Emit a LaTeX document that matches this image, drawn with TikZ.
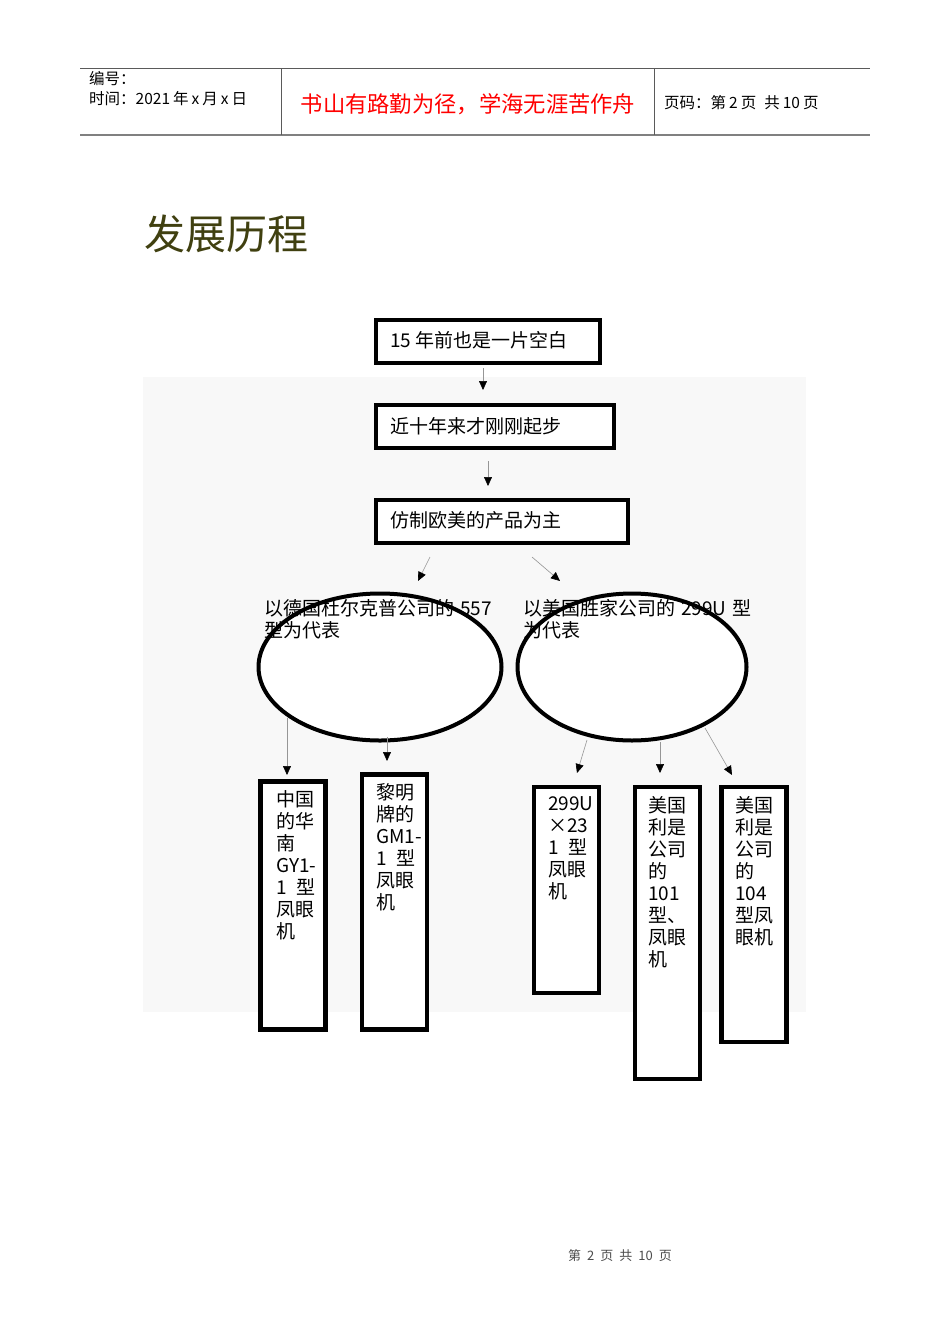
\documentclass[tikz,border=0pt]{standalone}
\usepackage{fontspec}
\setmainfont{Noto Sans CJK SC}
\usetikzlibrary{arrows.meta,shapes.geometric}
\definecolor{titlecol}{RGB}{64,64,16}
\definecolor{bgcol}{RGB}{248,248,248}
\definecolor{hdrline}{RGB}{90,90,90}
\definecolor{linkcol}{RGB}{150,150,150}
\tikzset{
  sbox/.style={draw, line width=4.3pt, fill=white, anchor=north west, inner sep=0pt, outer sep=0pt},
  btxt/.style={anchor=north west, align=left, font=\fontsize{19}{22}\selectfont, inner sep=0pt},
  ltxt/.style={anchor=west, font=\fontsize{19}{22}\selectfont, inner sep=0pt},
  oval/.style={draw, ellipse, line width=4pt, fill=white, inner sep=0pt},
  arr/.style={draw=linkcol, line width=0.6pt, -{Triangle[length=9pt,width=8pt,color=black]}},
  hdr/.style={draw=hdrline, line width=1pt},
  htxt/.style={anchor=west, font=\fontsize{15.5}{17}\selectfont, inner sep=0pt}
}
\begin{document}
\begin{tikzpicture}[x=1pt,y=-1pt]
\useasboundingbox[fill=white] (0,0) rectangle (950,1344);
% header
\draw[hdr] (80,68) -- (870,68);
\draw[hdr, line width=1.4pt, draw=gray] (80,135) -- (870,135);
\draw[hdr] (281,68) -- (281,135);
\draw[hdr] (654,68) -- (654,135);
\node[htxt] (h1) at (89,79) {编号：};
\node[htxt] (h2) at (89,99) {时间：2021\hspace{3pt}年\hspace{3pt}x\hspace{3pt}月\hspace{3pt}x\hspace{3pt}日};
\node[anchor=center, font=\fontsize{22.3}{24}\selectfont, text=red, inner sep=0pt] (h3) at (468,104) {书山有路勤为径，学海无涯苦作舟};
\node[htxt] (h4) at (664,103) {页码：第\hspace{3pt}2\hspace{3pt}页\hspace{8pt}共\hspace{3pt}10\hspace{3pt}页};
% title
\node[anchor=west, font=\fontsize{41}{44}\selectfont, text=titlecol, inner sep=0pt] (title) at (144,234) {发展历程};
% background
\fill[bgcol] (143,377) rectangle (806,1012);
% top boxes
\node[sbox, minimum width=224pt, minimum height=43pt] (b1) at (376,320) {};
\node[ltxt] (t1) at (390,340) {15\hspace{4pt}年前也是一片空白};
\node[sbox, minimum width=238pt, minimum height=43pt] (b2) at (376,405) {};
\node[ltxt] (t2) at (390,426) {近十年来才刚刚起步};
\node[sbox, minimum width=252pt, minimum height=43pt] (b3) at (376,500) {};
\node[ltxt] (t3) at (390,520) {仿制欧美的产品为主};
% ellipses
\node[oval, minimum width=243pt, minimum height=147pt] (e1) at (380,667) {};
\node[oval, minimum width=229pt, minimum height=147pt] (e2) at (632,667) {};
\node[btxt] (et1) at (264,599) {以德国杜尔克普公司的\hspace{6pt}557\\型为代表};
\node[btxt] (et2) at (523,599) {以美国胜家公司的\hspace{6pt}299U\hspace{6pt}型\\为代表};
% bottom boxes
\node[sbox, minimum width=65pt, minimum height=248pt] (c1) at (260.5,781.5) {};
\node[btxt] (ct1) at (276,790) {中国\\的华\\南\\GY1-\\1\hspace{10pt}型\\凤眼\\机};
\node[sbox, minimum width=65pt, minimum height=255pt] (c2) at (362,774.5) {};
\node[btxt] (ct2) at (376,783) {黎明\\牌的\\GM1-\\1\hspace{10pt}型\\凤眼\\机};
\node[sbox, minimum width=65pt, minimum height=206pt] (c3) at (534,787) {};
\node[btxt] (ct3) at (548,796) {299U\\×23\\1\hspace{10pt}型\\凤眼\\机};
\node[sbox, minimum width=65pt, minimum height=292pt] (c4) at (635,787) {};
\node[btxt] (ct4) at (648,796) {美国\\利是\\公司\\的\\101\\型、\\凤眼\\机};
\node[sbox, minimum width=65pt, minimum height=255pt] (c5) at (721.5,787) {};
\node[btxt] (ct5) at (735,796) {美国\\利是\\公司\\的\\104\\型凤\\眼机};
% connectors
\coordinate (a1s) at (483,368); \coordinate (a1e) at (483,390);
\coordinate (a2s) at (488,461); \coordinate (a2e) at (488,486);
\coordinate (a3s) at (430,557); \coordinate (a3e) at (418,581);
\coordinate (a4s) at (532,557); \coordinate (a4e) at (560,581);
\coordinate (a5s) at (287,718); \coordinate (a5e) at (287,775);
\coordinate (a6s) at (387,737); \coordinate (a6e) at (387,761);
\coordinate (a7s) at (587,740); \coordinate (a7e) at (577,773);
\coordinate (a8s) at (660,742); \coordinate (a8e) at (660,773);
\coordinate (a9s) at (705,728); \coordinate (a9e) at (732,775);
\foreach \i in {1,...,9} {\draw[arr] (a\i s) -- (a\i e);}
% footer
\node[anchor=center, font=\fontsize{13}{15}\selectfont, text=gray!60!black, inner sep=0pt] (foot) at (620,1256) {第\hspace{6pt}2\hspace{6pt}页\hspace{6pt}共\hspace{6pt}10\hspace{6pt}页};
\end{tikzpicture}
\end{document}
